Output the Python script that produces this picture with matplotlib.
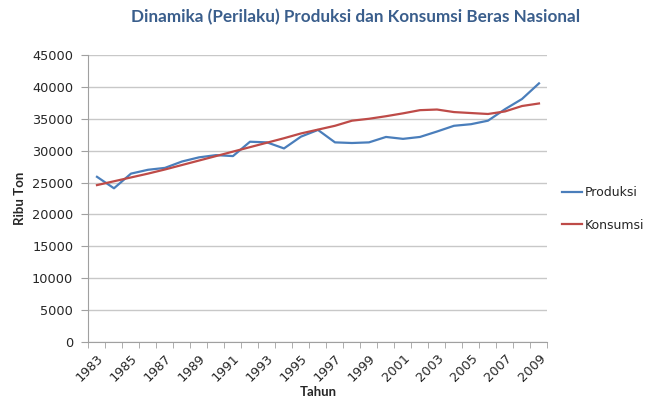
import matplotlib
matplotlib.use("Agg")
import matplotlib.pyplot as plt
import numpy as np

years = list(range(1983, 2010))
produksi = [25900, 24100, 26400, 27000, 27300, 28300, 28950, 29300, 29150, 31400,
            31300, 30350, 32200, 33250, 31300, 31200, 31300, 32150, 31850, 32150,
            33000, 33900, 34150, 34700, 36500, 38100, 40550]
konsumsi = [24600, 25200, 25800, 26400, 27050, 27750, 28450, 29150, 29850, 30550,
            31250, 31950, 32700, 33300, 33900, 34700, 35000, 35400, 35850, 36350,
            36450, 36050, 35900, 35750, 36150, 37000, 37400]
yticks = list(range(0, 45001, 5000))
title = "Dinamika (Perilaku) Produksi dan Konsumsi Beras Nasional"

plt.rcParams['font.family'] = ['DejaVu Sans']
txtc = '#262626'
bold_fam = ['Lato', 'DejaVu Sans']

fig = plt.figure(figsize=(6.52, 4.05), dpi=100)
ax = fig.add_axes([0.1357, 0.1556, 0.7040, 0.7086])

x = np.arange(len(years))
ax.plot(x, produksi, color='#4A7EBB', lw=1.6, label='Produksi')
ax.plot(x, konsumsi, color='#BE4B48', lw=1.6, label='Konsumsi')

ax.set_xlim(-0.5, len(years) - 0.5)
ax.set_ylim(0, 45000)
ax.set_yticks(yticks)
ax.set_yticklabels([str(v) for v in yticks], fontsize=9.3, color=txtc)
ax.yaxis.grid(True, color='#C8C8C8', lw=1)
ax.set_axisbelow(True)

ax.set_xticks(x[::2])
ax.set_xticklabels([str(y) for y in years[::2]], rotation=45, ha='right',
                   rotation_mode='anchor', fontsize=9.3, color=txtc)
ax.set_xticks(np.arange(-0.5, len(years), 1), minor=True)
ax.tick_params(axis='x', which='major', length=0, pad=7)
ax.tick_params(axis='x', which='minor', length=4, color='#A0A0A0', direction='out')
ax.tick_params(axis='y', length=5, color='#A0A0A0', direction='out', pad=6)

for s in ['top', 'right']:
    ax.spines[s].set_visible(False)
for s in ['left', 'bottom']:
    ax.spines[s].set_color('#A0A0A0')

ax.set_ylabel('Ribu Ton', fontsize=9.5, fontweight='bold', labelpad=4,
              family=bold_fam, color=txtc)
ax.set_xlabel('Tahun', fontsize=9.5, fontweight='bold', labelpad=1,
              family=bold_fam, color=txtc)

fig.text(0.545, 0.957, title, ha='center', va='center', fontsize=12.3,
         fontweight='bold', color='#3A5E8C', family=bold_fam)

leg = ax.legend(loc='center left', bbox_to_anchor=(1.0, 0.463), frameon=False,
                fontsize=9, handlelength=1.6, handletextpad=0.2, labelspacing=1.55,
                borderaxespad=0.75)
for t in leg.get_texts():
    t.set_color(txtc)

fig.savefig('out.png', dpi=100)
